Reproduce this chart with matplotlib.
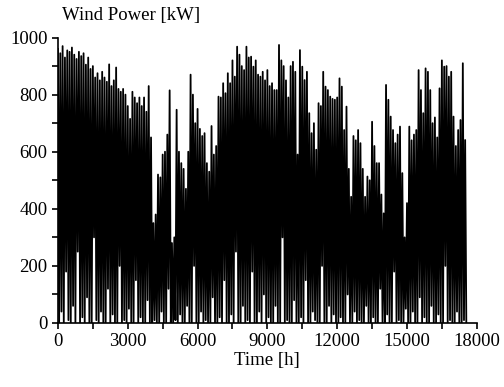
import numpy as np
import matplotlib
matplotlib.use("Agg")
import matplotlib.pyplot as plt
from matplotlib.ticker import MultipleLocator

plt.rcParams['font.family'] = ['Liberation Serif', 'DejaVu Serif']

# peak values, one per 100 h block (kW)
peaks = [
    960, 945, 970, 930, 955, 950, 965, 940, 925, 950,
    935, 945, 905, 930, 890, 900, 860, 875, 850, 880,
    860, 845, 906, 830, 850, 895, 820, 810, 820, 800,
    760, 715, 810, 790, 770, 790, 760, 790, 740, 830,
    650, 350, 380, 520, 510, 590, 600, 660, 815, 280,
    300, 747, 600, 560, 540, 470, 600, 870, 800, 700,
    750, 680, 655, 665, 560, 530, 690, 590, 620, 793,
    790, 840, 805, 875, 840, 920, 863, 968, 940, 900,
    886, 968, 930, 933, 898, 920, 870, 863, 880, 850,
    886, 830, 840, 816, 816, 974, 920, 900, 850, 790,
    900, 915, 880, 590, 956, 898, 851, 880, 735, 665,
    700, 607, 770, 760, 880, 828, 816, 793, 785, 782,
    790, 857, 828, 676, 758, 540, 442, 655, 640, 676,
    630, 540, 442, 513, 500, 705, 620, 560, 560, 450,
    384, 834, 782, 723, 676, 630, 660, 688, 525, 300,
    420, 688, 640, 660, 676, 886, 816, 735, 892, 880,
    816, 700, 720, 650, 822, 920, 898, 900, 863, 880,
    723, 620, 676, 711, 910, 641,
]
# low values between the peaks (kW)
troughs = [
    0, 40, 0, 180, 10, 0, 60, 0, 250, 0,
    20, 0, 90, 0, 0, 300, 10, 0, 40, 0,
    0, 120, 0, 30, 0, 0, 200, 0, 10, 0,
    50, 0, 0, 150, 0, 20, 0, 0, 80, 0,
    0, 10, 0, 0, 40, 0, 0, 120, 0, 0,
    10, 0, 30, 0, 0, 60, 0, 0, 200, 0,
    0, 40, 0, 10, 0, 0, 90, 0, 0, 20,
    0, 150, 0, 0, 30, 0, 250, 0, 0, 60,
    0, 10, 0, 180, 0, 0, 40, 0, 100, 0,
    20, 0, 0, 60, 0, 0, 300, 0, 10, 0,
    0, 80, 0, 0, 20, 0, 150, 0, 0, 40,
    10, 0, 0, 200, 0, 0, 60, 0, 30, 0,
    0, 20, 0, 0, 100, 0, 0, 40, 0, 10,
    0, 0, 60, 0, 0, 20, 0, 0, 120, 0,
    0, 30, 0, 0, 180, 0, 10, 0, 0, 50,
    0, 0, 40, 0, 0, 90, 0, 20, 0, 0,
    60, 0, 0, 30, 0, 0, 200, 0, 10, 0,
    0, 40, 0, 0, 10, 0,
]

step = 50  # h between samples
power = np.ravel(np.column_stack([peaks, troughs]))
hours = np.arange(len(power)) * step

fig = plt.figure(figsize=(5.04, 3.87), dpi=100)
ax = fig.add_axes([0.115, 0.1654, 0.831, 0.7376])
ax.plot(hours, power, color='black', lw=1.3)

ax.set_xlim(0, 18000)
ax.set_ylim(0, 1000)
ax.xaxis.set_major_locator(MultipleLocator(3000))
ax.xaxis.set_minor_locator(MultipleLocator(1500))
ax.yaxis.set_major_locator(MultipleLocator(200))
ax.yaxis.set_minor_locator(MultipleLocator(100))
ax.tick_params(which='both', direction='out', length=4, width=1.2, labelsize=13.5)
for s in ['top', 'right']:
    ax.spines[s].set_visible(False)
for s in ['left', 'bottom']:
    ax.spines[s].set_linewidth(1.2)

ax.set_xlabel('Time [h]', fontsize=13.5, labelpad=1)
fig.text(0.123, 0.96, 'Wind Power [kW]', fontsize=13.5, ha='left', va='center')

fig.savefig('out.png', dpi=100)
